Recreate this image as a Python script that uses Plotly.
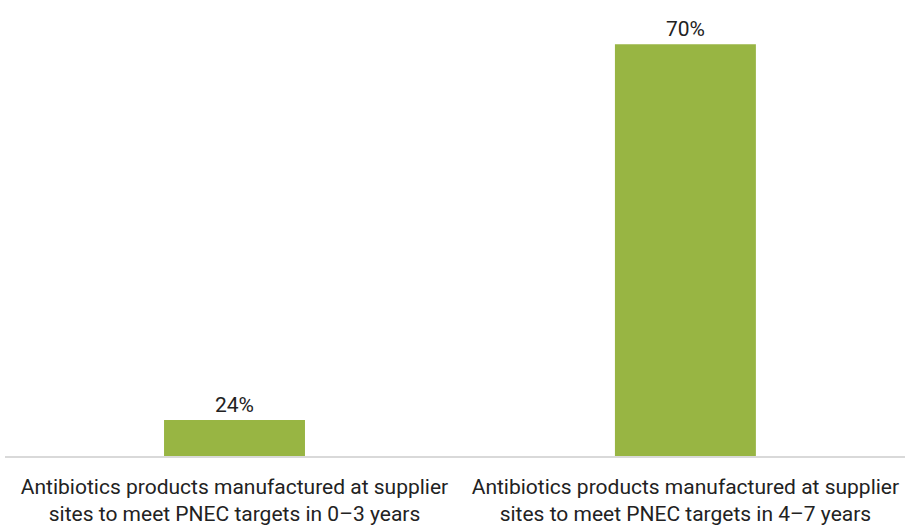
import plotly.graph_objects as go

categories = [
    "Antibiotics products manufactured at supplier<br>sites to meet PNEC targets in 0–3 years",
    "Antibiotics products manufactured at supplier<br>sites to meet PNEC targets in 4–7 years",
]
values = [24, 70]
labels = ["24%", "70%"]

FONT = dict(family="Roboto", size=21, color="#222222")

fig = go.Figure(
    go.Bar(
        x=categories,
        y=values,
        text=labels,
        textposition="outside",
        textfont=FONT,
        marker=dict(color="#98b543", line=dict(width=0)),
        width=0.3126,
        cliponaxis=True,
        hoverinfo="skip",
    )
)

fig.update_layout(
    width=905,
    height=526,
    margin=dict(l=5, r=0, t=0, b=70),
    paper_bgcolor="white",
    plot_bgcolor="white",
    showlegend=False,
    font=FONT,
)
fig.update_xaxes(
    range=[-0.509, 1.487],
    showline=True,
    linecolor="#d9d9d9",
    linewidth=1.5,
    showgrid=False,
    ticks="",
    ticklabelstandoff=11,
    tickfont=FONT,
)
fig.update_yaxes(
    range=[19.6, 75.4],
    visible=False,
    showgrid=False,
    zeroline=False,
)

fig.write_html("out.html")
